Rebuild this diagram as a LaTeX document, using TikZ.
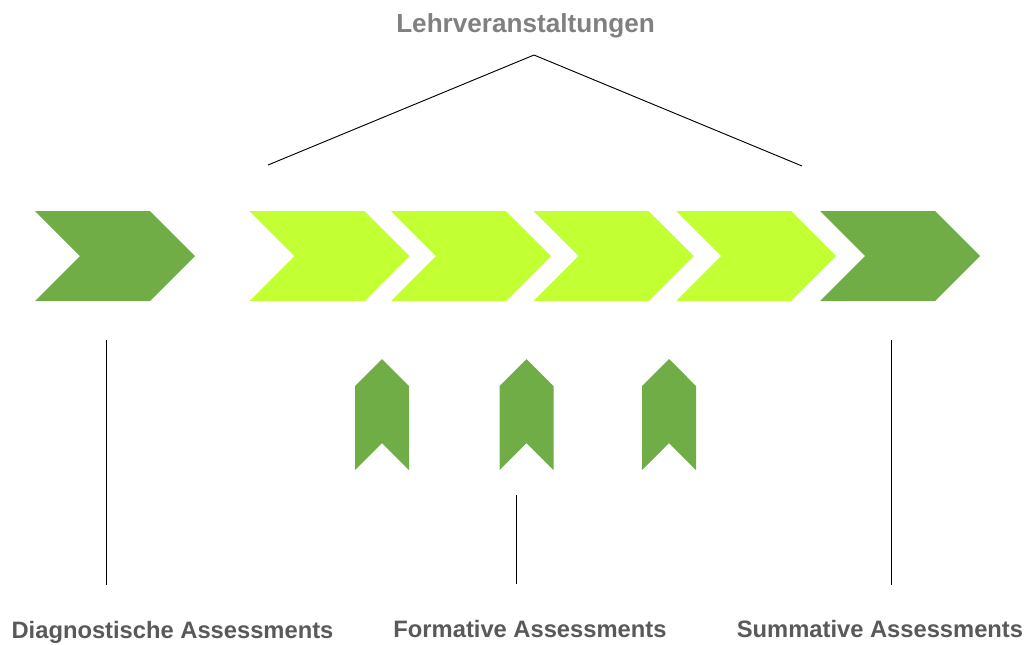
\documentclass[tikz,border=0pt]{standalone}
\usepackage{xcolor}
\usepackage{fontspec}
\setmainfont{Liberation Sans}
\usetikzlibrary{shapes.symbols, positioning}
\definecolor{darkgreen}{HTML}{70AD47}
\definecolor{limegreen}{HTML}{C2FF33}
\definecolor{topgray}{HTML}{808080}
\definecolor{botgray}{HTML}{595959}

\begin{document}
\begin{tikzpicture}[x=0.75pt, y=-0.75pt]
\tikzstyle{phase} = [signal, signal from=west, signal to=east, signal pointer angle=90, minimum width=120pt, minimum height=67.5pt, inner sep=0pt, outer sep=0pt]
\tikzstyle{upmark} = [signal, signal from=south, signal to=north, signal pointer angle=90, minimum width=40.5pt, minimum height=42.75pt, inner sep=0pt, outer sep=0pt, fill=darkgreen]
\tikzstyle{assess} = [font=\bfseries\fontsize{17.8}{20}\selectfont, text=botgray, anchor=base, inner sep=0pt]
\tikzstyle{bar} = [draw=black, line width=0.7pt]

\useasboundingbox (0,0) rectangle (1027,644);

\node (course) [assess, text=topgray, font=\bfseries\fontsize{19.6}{22}\selectfont] at (525.5,32.5) {Lehrveranstaltungen};

\node (diag) [phase, fill=darkgreen] at (115,256) {};
\foreach \x [count=\i] in {329.5,471,613.5,756}
  \node (lv\i) [phase, fill=limegreen] at (\x,256) {};
\node (summ) [phase, fill=darkgreen] at (900,256) {};

\foreach \x [count=\i] in {382,526.5,669}
  \node (form\i) [upmark] at (\x,414.5) {};

\coordinate (roofL) at (268,165);
\coordinate (roofT) at (534,55);
\coordinate (roofR) at (802,166);
\draw [bar] (roofL) -- (roofT) -- (roofR);

\node (diaglabel) [assess] at (172.5,638) {Diagnostische Assessments};
\node (formlabel) [assess] at (530,637) {Formative Assessments};
\node (summlabel) [assess] at (880,637) {Summative Assessments};

\coordinate (diagtop) at (106,340);
\coordinate (diagbot) at (106,585);
\coordinate (formtop) at (516,495);
\coordinate (formbot) at (516,584);
\coordinate (summtop) at (891,340);
\coordinate (summbot) at (891,585);
\draw [bar] (diagtop) -- (diagbot);
\draw [bar] (formtop) -- (formbot);
\draw [bar] (summtop) -- (summbot);

\end{tikzpicture}
\end{document}
